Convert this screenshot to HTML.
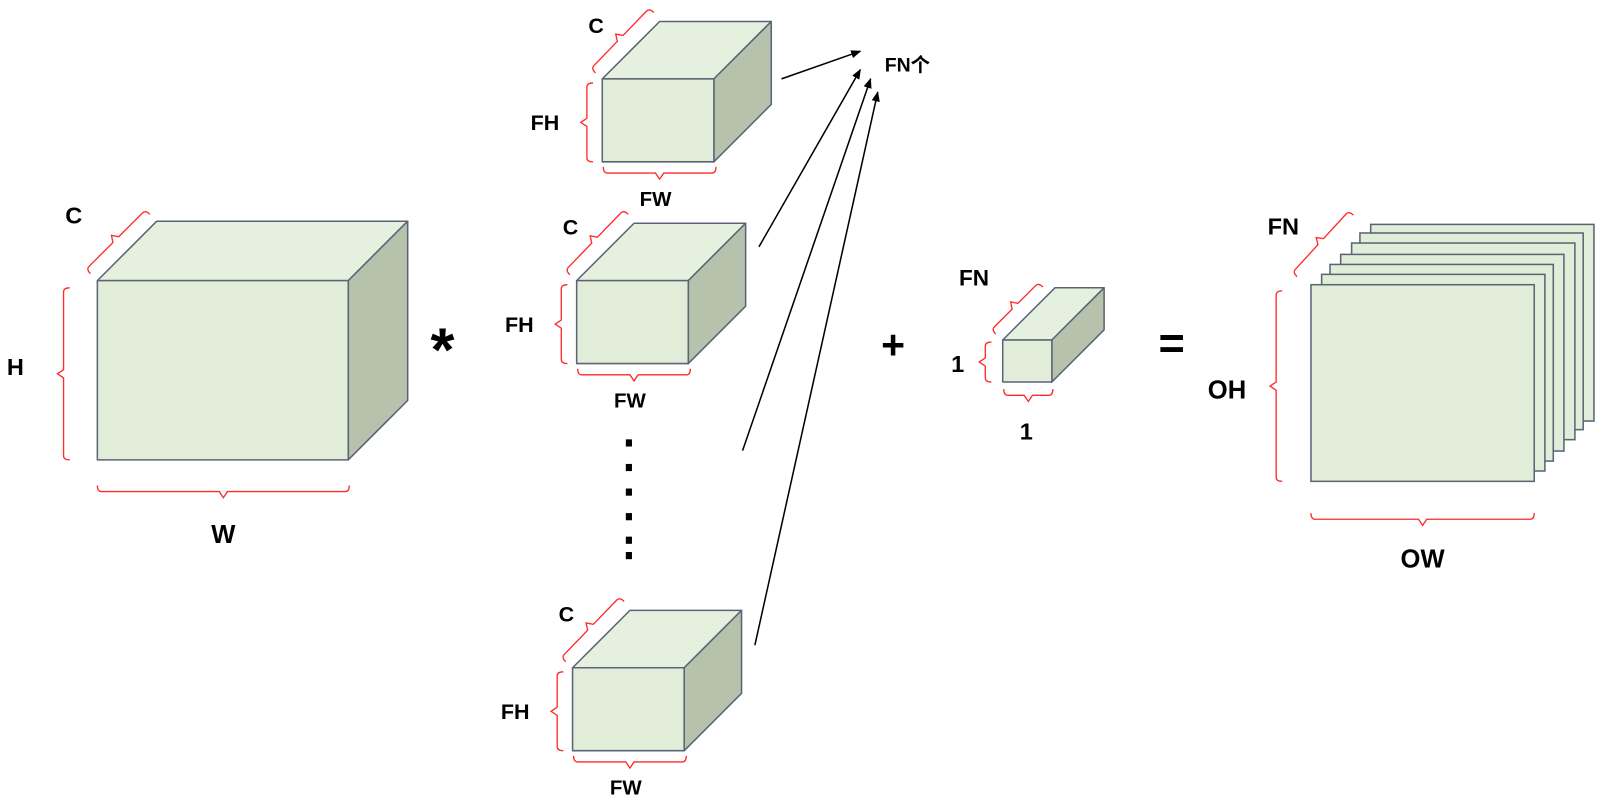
<!DOCTYPE html>
<html><head><meta charset="utf-8"><style>
html,body{margin:0;padding:0;background:#fff;}
svg{display:block;}
text{font-family:"Liberation Sans","Noto Sans CJK SC",sans-serif;font-weight:bold;fill:#000;}
</style></head><body>
<svg id="s" width="1606" height="806" viewBox="0 0 1568 787" xmlns="http://www.w3.org/2000/svg">
<defs><marker id="ah" markerWidth="10" markerHeight="8" refX="9" refY="4" orient="auto" markerUnits="userSpaceOnUse"><path d="M0,0 L10,4 L0,8 z" fill="#000"/></marker></defs>
<g id="g"></g>
</svg>
<script>
const NS="http://www.w3.org/2000/svg";
const g=document.getElementById('g');
function el(tag,attrs,name,parent){const e=document.createElementNS(NS,tag);for(const k in attrs)e.setAttribute(k,attrs[k]);


(parent||g).appendChild(e);return e;}
function cube(x,y,w,h,d,name){
 const grp=el('g',{},name);
 const st={stroke:'#5a6475','stroke-width':1.5,'stroke-linejoin':'round'};
 el('polygon',Object.assign({points:`${x},${y} ${x+d},${y-d} ${x+w+d},${y-d} ${x+w},${y}`,fill:'#e6f0df'},st),name+'-top',grp);
 el('polygon',Object.assign({points:`${x+w},${y} ${x+w+d},${y-d} ${x+w+d},${y+h-d} ${x+w},${y+h}`,fill:'#b7c2ad'},st),name+'-side',grp);
 el('rect',Object.assign({x:x,y:y,width:w,height:h,fill:'#e2edd9'},st),name+'-front',grp);
}
function brace(x1,y1,x2,y2,s,name){
 const L=Math.hypot(x2-x1,y2-y1),a=Math.atan2(y2-y1,x2-x1)*180/Math.PI,h=6*s,m=L/2;
 el('path',{d:`M0,${h} Q0,0 ${4},0 L${m-4},0 L${m},${-h} L${m+4},0 L${L-4},0 Q${L},0 ${L},${h}`,fill:'none',stroke:'#ff2a2a','stroke-width':1.3,transform:`translate(${x1},${y1}) rotate(${a})`},name);
}
function txt(x,y,t,size,name){const e=el('text',{x:x,y:y,'font-size':size,'text-anchor':'middle'},name);e.textContent=t;return e;}

// input
cube(95,274,245,175,58,'input-cube');
brace(84,263,142,205,1,'input-c-brace');
brace(62,281,62,449,-1,'input-h-brace');
brace(95,480,341,480,-1,'input-w-brace');
txt(72,218,'C',23,'input-c-label');txt(15,366,'H',23,'input-h-label');txt(218,530,'W',25,'input-w-label');
txt(432,362,'*',60,'multiply-sign');

// filters
const filters=[[588,77,'filter-1'],[563,274,'filter-2'],[559,652,'filter-3']];
filters.forEach(([x,y,n])=>{
 cube(x,y,109,81,56,n);
 brace(x-11,y-10,x+46,y-69,1,n+'-c-brace');
 brace(x-15,y+4,x-15,y+81,-1,n+'-fh-brace');
 brace(x+1,y+92,x+111,y+92,-1,n+'-fw-brace');
 txt(x-6,y-45,'C',21,n+'-c-label');
 txt(x-56,y+50,'FH',21,n+'-fh-label');
 txt(x+52,y+124,'FW',20,n+'-fw-label');
});
[433,457,481,505,528,543].forEach((yy,i)=>el('rect',{x:611,y:yy-4,width:6,height:7,fill:'#000'},'ellipsis-dot'));

// arrows
[[763,77,840,50],[741,241,840,68],[725,440,850,77],[737,630,857,90]].forEach((p,i)=>el('line',{x1:p[0],y1:p[1],x2:p[2],y2:p[3],stroke:'#000','stroke-width':1.5,'marker-end':'url(#ah)'},'arrow-'+(i+1)));
txt(886,70,'FN个',19,'fn-count-label');

txt(872,350,'+',40,'plus-sign');
// bias
cube(979,332,48,41,51,'bias-cube');
brace(968,322,1014,276,1,'bias-fn-brace');
brace(962,334,962,373,-1,'bias-1-brace');
brace(980,386,1028,386,-1,'bias-w-brace');
txt(951,279,'FN',22,'bias-fn-label');txt(935,363,'1',23,'bias-1-label');txt(1002,429,'1',23,'bias-w-label');
txt(1144,350,'=',44,'equals-sign');

// output
const out=el('g',{},'output-stack');
[[1370.7-1311,225.7-286],[1360-1311,234.3-286],[1351.7-1311,244.3-286],[1340.7-1311,255.7-286],[1330-1311,265.7-286],[1321.7-1311,275.7-286],[0,0]].forEach(([dx,dy],i)=>{
 el('rect',{x:(1280+dx/1.0242).toFixed(1),y:(278+dy/1.0242).toFixed(1),width:218,height:192,fill:'#e2edd9',stroke:'#5a6475','stroke-width':1.5},'output-sheet-'+(7-i),out);
});
brace(1262,266,1317,206,1,'output-fn-brace');
brace(1246,284,1246,470,-1,'output-oh-brace');
brace(1280,507,1498,507,-1,'output-ow-brace');
txt(1253,229,'FN',23,'output-fn-label');txt(1198,389,'OH',25,'output-oh-label');txt(1389,554,'OW',25,'output-ow-label');
</script>
</body></html>
